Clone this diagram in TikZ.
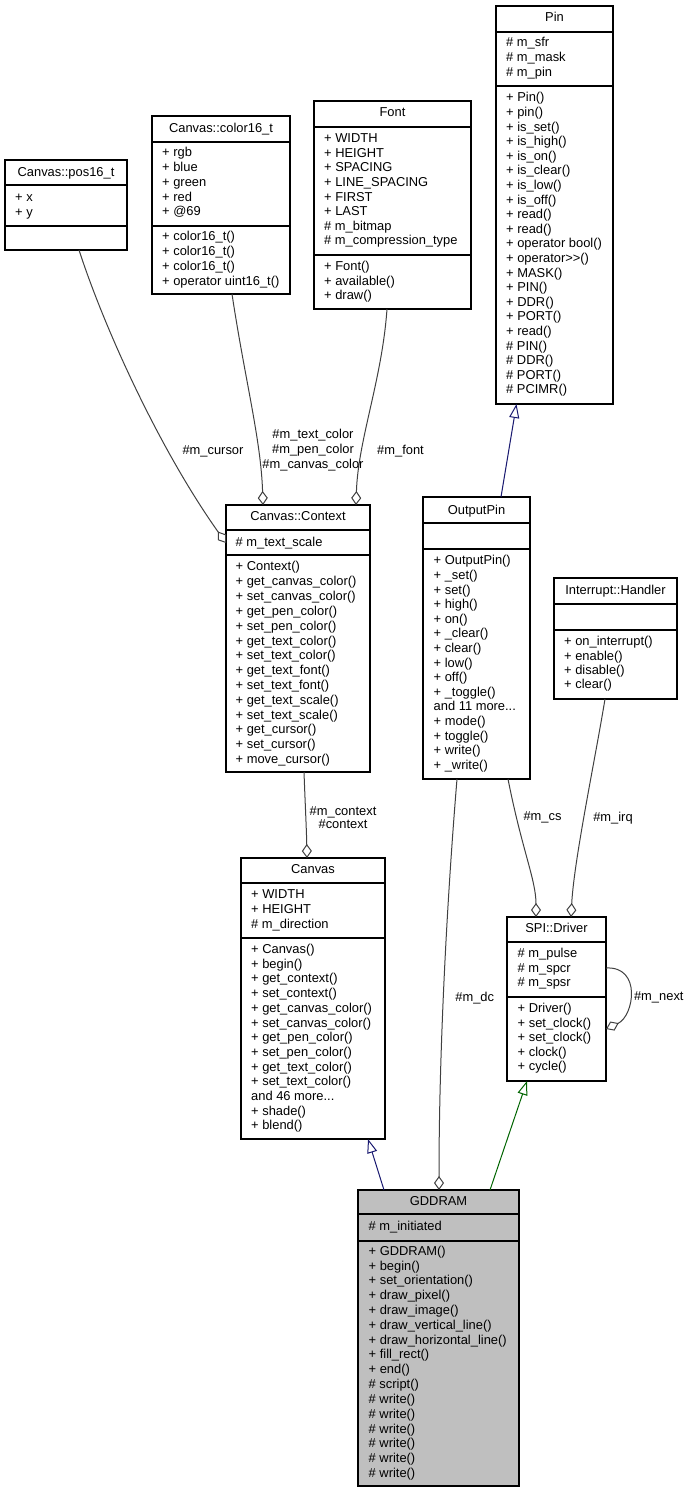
\documentclass[tikz,border=0pt]{standalone}
\usepackage{fontspec}
\setmainfont{Liberation Sans}
\usetikzlibrary{arrows.meta}
\definecolor{edgegray}{HTML}{404040}
\definecolor{inhblue}{HTML}{191970}
\definecolor{inhgreen}{HTML}{006400}
\definecolor{classfill}{HTML}{BFBFBF}
\newcommand\threedots{.{}.{}.}
% name, x1, x2, ytop, ydiv1, ydiv2, ybottom, extra style
\newcommand\classbox[8]{%
  \node[classbox,#8,minimum width={(#3-#2)*1pt},minimum height={(#7-#4)*1pt}] (#1) at ({(#2+#3)/2},{(#4+#7)/2}) {};
  \draw[divider] (#2,#5) -- (#3,#5);
  \draw[divider] (#2,#6) -- (#3,#6);
}
% name, xcenter, ycenter, text
\newcommand\classhdr[4]{\node[hdr] (#1-h) at (#2,{#3+4.2}) {#4};}
% prefix, x, yfirst, pitch, list
\newcommand\members[5]{%
  \foreach \mtext [count=\mi] in {#5} {\node[mem] (#1-\mi) at (#2,{#3+(\mi-1)*#4+4.2}) {\mtext};}%
}
\begin{document}
\begin{tikzpicture}[x=1pt,y=-1pt,
  every node/.style={font=\fontsize{12.9}{14.6}\selectfont},
  classbox/.style={draw=black,line width=1.2pt,fill=white,inner sep=0pt,outer sep=0pt},
  divider/.style={draw=black,line width=1.2pt},
  hdr/.style={anchor=base,inner sep=0pt},
  mem/.style={anchor=base west,inner sep=0pt},
  lbl/.style={align=center,inner sep=0pt},
  agg/.style={draw=edgegray,line width=1pt,-{Diamond[open,length=14pt,width=10pt]}},
  inh/.style={line width=1pt,-{Triangle[open,length=14pt,width=10pt]}}]
\useasboundingbox (0,0) rectangle (690,1492);

% Canvas::pos16_t
\classbox{pos}{5}{127}{160}{185}{226}{250}{}
\classhdr{pos}{66}{172.7}{Canvas::pos16\_t}
\members{pos-a}{15}{197.7}{15}{+ x, + y}

% Canvas::color16_t
\classbox{col}{152}{290}{116}{142}{226}{294}{}
\classhdr{col}{221}{128.3}{Canvas::color16\_t}
\members{col-a}{162}{152.7}{14.75}{+ rgb, + blue, + green, + red, + @69}
\members{col-m}{162}{236.7}{15}{+ color16\_t(), + color16\_t(), + color16\_t(), + operator uint16\_t()}

% Font
\classbox{font}{314}{471}{101}{127}{255}{309}{}
\classhdr{font}{392.5}{112.3}{Font}
\members{font-a}{324}{138.3}{14.63}{+ WIDTH, + HEIGHT, + SPACING, + LINE\_SPACING, + FIRST, + LAST, \# m\_bitmap, \# m\_compression\_type}
\members{font-m}{324}{266.7}{14.17}{+ Font(), + available(), + draw()}

% Pin
\classbox{pin}{496}{613}{6}{32}{86}{404}{}
\classhdr{pin}{554.5}{17.3}{Pin}
\members{pin-a}{506}{42.7}{15}{\# m\_sfr, \# m\_mask, \# m\_pin}
\members{pin-m}{506}{97.7}{14.6}{+ Pin(), + pin(), + is\_set(), + is\_high(), + is\_on(), + is\_clear(), + is\_low(), + is\_off(), + read(), + read(), + operator bool(), + operator>{}>(), + MASK(), + PIN(), + DDR(), + PORT(), + read(), \# PIN(), \# DDR(), \# PORT(), \# PCIMR()}

% Canvas::Context
\classbox{ctx}{226}{370}{505}{530}{555}{772}{}
\classhdr{ctx}{298}{516.7}{Canvas::Context}
\members{ctx-a}{235.5}{542.7}{14.6}{\# m\_text\_scale}
\members{ctx-m}{235.5}{566.7}{14.82}{+ Context(), + get\_canvas\_color(), + set\_canvas\_color(), + get\_pen\_color(), + set\_pen\_color(), + get\_text\_color(), + set\_text\_color(), + get\_text\_font(), + set\_text\_font(), + get\_text\_scale(), + set\_text\_scale(), + get\_cursor(), + set\_cursor(), + move\_cursor()}

% OutputPin
\classbox{opin}{423}{530}{497}{523}{549}{779}{}
\classhdr{opin}{476.5}{510}{OutputPin}
\members{opin-m}{433.5}{560.7}{14.6}{+ OutputPin(), + \_set(), + set(), + high(), + on(), + \_clear(), + clear(), + low(), + off(), + \_toggle(), and 11 more\threedots, + mode(), + toggle(), + write(), + \_write()}

% Interrupt::Handler
\classbox{irq}{554}{677}{578}{604}{630}{699}{}
\classhdr{irq}{615.5}{590}{Interrupt::Handler}
\members{irq-m}{564}{641.7}{14.1}{+ on\_interrupt(), + enable(), + disable(), + clear()}

% Canvas
\classbox{canvas}{241}{385}{858}{883}{938}{1139}{}
\classhdr{canvas}{313}{869.3}{Canvas}
\members{canvas-a}{251}{894}{15.2}{+ WIDTH, + HEIGHT, \# m\_direction}
\members{canvas-m}{251}{949.3}{14.7}{+ Canvas(), + begin(), + get\_context(), + set\_context(), + get\_canvas\_color(), + set\_canvas\_color(), + get\_pen\_color(), + set\_pen\_color(), + get\_text\_color(), + set\_text\_color(), and 46 more\threedots, + shade(), + blend()}

% SPI::Driver
\classbox{spi}{507}{606}{917}{942}{997}{1081}{}
\classhdr{spi}{556.5}{928.3}{SPI::Driver}
\members{spi-a}{517.5}{953.3}{14.5}{\# m\_pulse, \# m\_spcr, \# m\_spsr}
\members{spi-m}{517.5}{1008.3}{14.6}{+ Driver(), + set\_clock(), + set\_clock(), + clock(), + cycle()}

% GDDRAM
\classbox{gdd}{358}{519}{1190}{1214}{1241}{1486}{fill=classfill}
\classhdr{gdd}{438.5}{1201.7}{GDDRAM}
\members{gdd-a}{368.5}{1226}{14.6}{\# m\_initiated}
\members{gdd-m}{368.5}{1251}{14.82}{+ GDDRAM(), + begin(), + set\_orientation(), + draw\_pixel(), + draw\_image(), + draw\_vertical\_line(), + draw\_horizontal\_line(), + fill\_rect(), + end(), \# script(), \# write(), \# write(), \# write(), \# write(), \# write(), \# write()}

% inheritance
\draw[inh,draw=inhblue] ([xshift=78pt]opin.north west) -- ([xshift=20.5pt]pin.south west);
\draw[inh,draw=inhblue] ([xshift=26pt]gdd.north west) -- ([xshift=127pt]canvas.south west);
\draw[inh,draw=inhgreen] ([xshift=132pt]gdd.north west) -- ([xshift=20pt]spi.south west);

% aggregation
\draw[agg] ([xshift=74pt]pos.south west) .. controls (105,330) and (160,450) .. ([yshift=-38pt]ctx.north west);
\draw[agg] ([xshift=80pt]col.south west) .. controls (245,380) and (261,440) .. ([xshift=37pt]ctx.north west);
\draw[agg] ([xshift=73pt]font.south west) .. controls (382,380) and (358,440) .. ([xshift=130pt]ctx.north west);
\draw[agg] ([xshift=78pt]ctx.south west) .. controls (305,800) and (306.5,830) .. ([xshift=66pt]canvas.north west);
\draw[agg] ([xshift=34pt]opin.south west) .. controls (447,900) and (439,1050) .. ([xshift=81pt]gdd.north west);
\draw[agg] ([xshift=85pt]opin.south west) .. controls (522,850) and (536,880) .. ([xshift=29pt]spi.north west);
\draw[agg] ([xshift=51pt]irq.south west) .. controls (595,760) and (574,860) .. ([xshift=64pt]spi.north west);
\draw[agg] ([yshift=-51pt]spi.north east) .. controls (642,966) and (634,1016) .. ([yshift=-112pt]spi.north east);

% labels
\node[lbl] (l-cursor) at (213,451.7) {\#m\_cursor};
\node[lbl] (l-color) at (313,450) {\#m\_text\_color\\\#m\_pen\_color\\\#m\_canvas\_color};
\node[lbl] (l-font) at (400.5,451) {\#m\_font};
\node[lbl,font=\fontsize{12.9}{13.6}\selectfont] (l-ctx) at (343,817.5) {\#m\_context\\\#context};
\node[lbl] (l-dc) at (474.7,997.7) {\#m\_dc};
\node[lbl] (l-cs) at (542.5,817.7) {\#m\_cs};
\node[lbl] (l-irq) at (613,817.7) {\#m\_irq};
\node[lbl] (l-next) at (658.8,997.7) {\#m\_next};
\end{tikzpicture}
\end{document}
